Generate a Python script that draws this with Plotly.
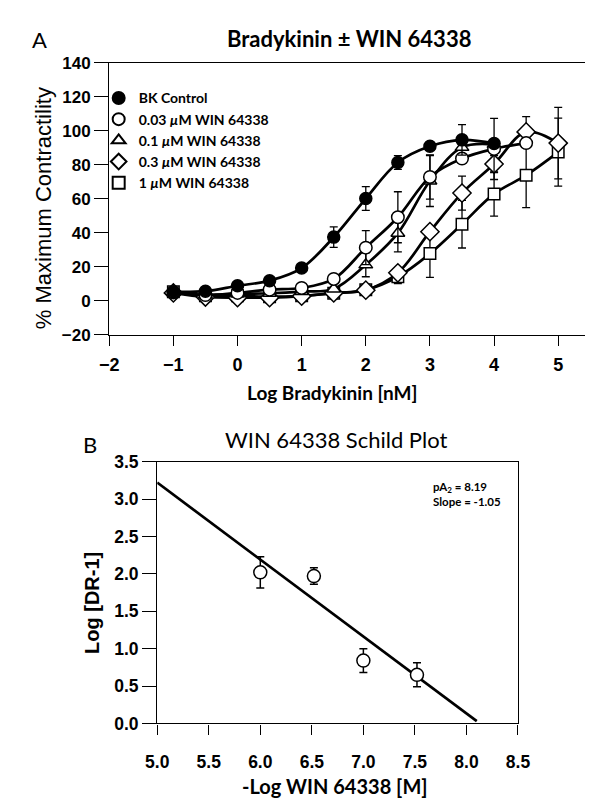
import plotly.graph_objects as go

W, H = 593, 801

# ---------------- Panel A data ----------------
log_bk = [-1, -0.5, 0, 0.5, 1, 1.5, 2, 2.5, 3, 3.5, 4, 4.5, 5]

bk_ctrl = [5.3, 5.7, 8.9, 11.9, 19.3, 37.5, 60.2, 81.4, 90.9, 94.7, 92.6]
bk_ctrl_err = [0, 0, 0, 0, 0, 6, 7, 4, 0, 9, 0]

win_003 = [5.0, 3.4, 4.7, 6.6, 7.6, 12.9, 31.3, 49.2, 72.9, 83.7, 89.4, 92.8]
win_003_err = [0, 0, 0, 0, 0, 0, 10, 15, 13, 0, 18, 0]

win_01 = [5.0, 3.5, 4.0, 4.5, 5.5, 7.0, 21.2, 39.8, 70.5, 90.3, 92.0]
win_01_err = [0, 0, 0, 0, 0, 0, 7, 11, 15, 0, 0]

win_03 = [4.7, 2.3, 1.9, 1.9, 2.8, 4.7, 6.3, 16.5, 40.7, 63.4, 80.5, 99.4, 92.8]
win_03_err = [0, 0, 0, 0, 0, 0, 0, 0, 0, 10, 5, 9, 21]

win_1 = [5.3, 3.0, 3.0, 2.5, 3.0, 4.5, 6.5, 14.2, 27.8, 45.1, 62.9, 73.9, 87.5]
win_1_err = [0, 0, 0, 0, 0, 0, 0, 4, 14, 14, 13, 19, 20]

series_names = ["BK Control",
                "0.03 <i>µ</i>M WIN 64338",
                "0.1 <i>µ</i>M WIN 64338",
                "0.3 <i>µ</i>M WIN 64338",
                "1 <i>µ</i>M WIN 64338"]

a_x_ticks = [-2, -1, 0, 1, 2, 3, 4, 5]
a_x_labels = ["\u22122", "\u22121", "0", "1", "2", "3", "4", "5"]
a_y_ticks = [-20, 0, 20, 40, 60, 80, 100, 120, 140]
a_y_labels = ["\u221220", "0", "20", "40", "60", "80", "100", "120", "140"]

# ---------------- Panel B data ----------------
schild_x = [6.0, 6.52, 7.0, 7.52]
schild_y = [2.02, 1.97, 0.84, 0.65]
schild_err = [0.21, 0.11, 0.16, 0.16]
fit_x = [5.0, 8.1]
fit_y = [3.22, 0.03]

b_x_ticks = [5, 5.5, 6, 6.5, 7, 7.5, 8, 8.5]
b_x_labels = ["5.0", "5.5", "6.0", "6.5", "7.0", "7.5", "8.0", "8.5"]
b_y_ticks = [0, 0.5, 1, 1.5, 2, 2.5, 3, 3.5]
b_y_labels = ["0.0", "0.5", "1.0", "1.5", "2.0", "2.5", "3.0", "3.5"]

# ---------------- layout helpers ----------------
def px_x(p):
    return p / W

def px_y(p):
    return 1 - p / H

fig = go.Figure()

marker_defs = [
    dict(symbol="circle", size=12, color="black"),
    dict(symbol="circle", size=12.5, color="white"),
    dict(symbol="triangle-up", size=12, color="white"),
    dict(symbol="diamond", size=14, color="white"),
    dict(symbol="square", size=11.5, color="white"),
]
data_sets = [
    (bk_ctrl, bk_ctrl_err),
    (win_003, win_003_err),
    (win_01, win_01_err),
    (win_03, win_03_err),
    (win_1, win_1_err),
]

draw_order = [4, 3, 2, 1, 0]
for i in draw_order:
    yv, ev = data_sets[i]
    m = marker_defs[i]
    fig.add_trace(go.Scatter(
        x=log_bk[:len(yv)], y=yv,
        mode="lines+markers",
        line=dict(color="black", width=2.7, shape="spline", smoothing=1.0),
        marker=dict(symbol=m["symbol"], size=m["size"], color=m["color"],
                    line=dict(color="black", width=1.5)),
        error_y=dict(type="data", array=ev, visible=True, color="black",
                     thickness=1.3, width=4),
        showlegend=False, xaxis="x", yaxis="y",
    ))

# legend entries (markers only)
for i in range(5):
    m = marker_defs[i]
    fig.add_trace(go.Scatter(
        x=[None], y=[None], mode="markers", name=series_names[i],
        marker=dict(symbol=m["symbol"], size=m["size"], color=m["color"],
                    line=dict(color="black", width=1.5)),
        xaxis="x", yaxis="y",
    ))

# Panel B
fig.add_trace(go.Scatter(
    x=fit_x, y=fit_y, mode="lines",
    line=dict(color="black", width=2.7),
    showlegend=False, xaxis="x2", yaxis="y2",
))
fig.add_trace(go.Scatter(
    x=schild_x, y=schild_y, mode="markers",
    marker=dict(symbol="circle", size=13, color="white",
                line=dict(color="black", width=1.5)),
    error_y=dict(type="data", array=schild_err, visible=True, color="black",
                 thickness=1.5, width=4),
    showlegend=False, xaxis="x2", yaxis="y2",
))

def tfont(size):
    return dict(family="Liberation Sans, Arial, sans-serif", size=size,
                color="black", weight="bold")

axis_common = dict(showline=True, linecolor="black", linewidth=1.3,
                   mirror=True, ticks="outside", tickwidth=1.3,
                   tickcolor="black", showgrid=False, zeroline=False)

fig.update_layout(
    width=W, height=H,
    margin=dict(l=0, r=0, t=0, b=0),
    paper_bgcolor="white", plot_bgcolor="white",
    xaxis=dict(domain=[px_x(93), px_x(591)], range=[-2, 5.45],
               tickvals=a_x_ticks, ticktext=a_x_labels,
               ticklen=10, ticklabelstandoff=3, tickfont=tfont(18),
               anchor="y", **axis_common),
    yaxis=dict(domain=[px_y(325), px_y(46)], range=[-20, 140],
               tickvals=a_y_ticks, ticktext=a_y_labels,
               ticklen=14, tickfont=tfont(17),
               anchor="x", **axis_common),
    xaxis2=dict(domain=[px_x(143), px_x(519)], range=[5, 8.5],
                tickvals=b_x_ticks, ticktext=b_x_labels,
                ticklen=10, ticklabelstandoff=12, tickfont=tfont(17.5),
                anchor="y2", **axis_common),
    yaxis2=dict(domain=[px_y(723.5), px_y(455)], range=[0, 3.5],
                tickvals=b_y_ticks, ticktext=b_y_labels,
                ticklen=14, tickfont=tfont(17.5),
                anchor="x2", **axis_common),
    legend=dict(x=px_x(82), y=px_y(66), xanchor="left", yanchor="top",
                bgcolor="rgba(0,0,0,0)", borderwidth=0,
                font=dict(family="Lato, sans-serif", size=14, color="black",
                          weight="bold"),
                itemsizing="constant", tracegroupgap=0),
)

title_font = dict(family="Lato, sans-serif", color="black")
annos = [
    dict(text="A", x=px_x(20), y=px_y(22), size=22, weight="normal"),
    dict(text="Bradykinin \u00b1 WIN 64338", x=px_x(343), y=px_y(21), size=22, weight="bold"),
    dict(text="Log Bradykinin [nM]", x=px_x(325), y=px_y(384), size=19, weight="bold"),
    dict(text="B", x=px_x(73), y=px_y(437), size=22, weight="normal"),
    dict(text="WIN 64338 Schild Plot", x=px_x(329), y=px_y(432), size=22, weight="normal"),
    dict(text="-Log WIN 64338 [M]", x=px_x(328), y=px_y(788), size=20, weight="bold"),
]
for a in annos:
    fig.add_annotation(text=a["text"], x=a["x"], y=a["y"], xref="paper", yref="paper",
                       showarrow=False, xanchor="center", yanchor="middle",
                       font=dict(size=a["size"], weight=a["weight"], **title_font))

fig.add_annotation(text="% Maximum Contractility", x=px_x(24), y=px_y(195),
                   xref="paper", yref="paper", showarrow=False, textangle=-90,
                   xanchor="center", yanchor="middle",
                   font=dict(family="Liberation Sans, Arial, sans-serif", size=22,
                             color="black"))
fig.add_annotation(text="Log [DR-1]", x=px_x(75), y=px_y(600),
                   xref="paper", yref="paper", showarrow=False, textangle=-90,
                   xanchor="center", yanchor="middle",
                   font=dict(family="Liberation Sans, Arial, sans-serif", size=20,
                             color="black", weight="bold"))
fig.add_annotation(text="pA<sub>2</sub> = 8.19<br>Slope = -1.05", x=px_x(428), y=px_y(472),
                   xref="paper", yref="paper", showarrow=False, align="left",
                   xanchor="left", yanchor="top",
                   font=dict(family="Lato, sans-serif", size=11.5, color="black",
                             weight="bold"))

fig.write_html("out.html")
